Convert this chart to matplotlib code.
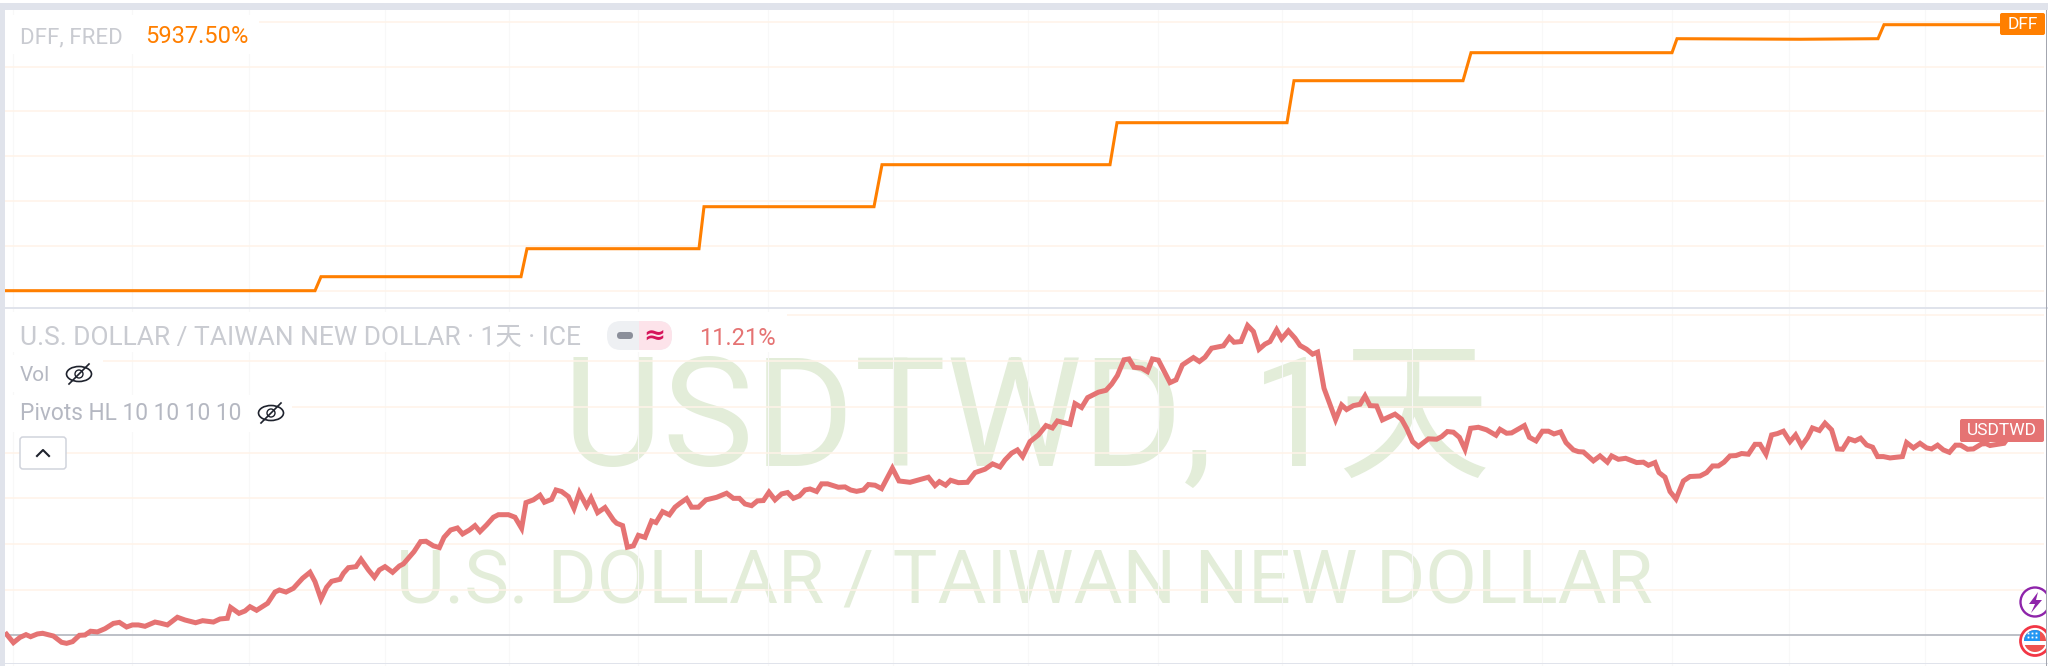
import matplotlib
matplotlib.use("Agg")
import matplotlib.pyplot as plt
from matplotlib.patches import Rectangle, FancyBboxPatch, Circle, Ellipse, Polygon

FONT = ['Roboto', 'Noto Sans CJK SC', 'DejaVu Sans']
plt.rcParams['font.family'] = FONT

# ---- data: day number on the shared time axis, DFF rate in %, USDTWD change in % ----
dff_days = [2.5, 157.5, 160.5, 260.5, 263.5, 349.5, 352, 437, 441, 555, 558.5, 643.5, 647, 731.5,
            735.5, 836, 838.5, 900, 939, 942, 1002]
dff_rate = [0.08, 0.08, 0.33, 0.33, 0.83, 0.83, 1.58, 1.58, 2.33, 2.33, 3.08, 3.08, 3.83, 3.83,
            4.33, 4.33, 4.58, 4.57, 4.58, 4.83, 4.83]

usd_days = [
    3.3, 6.7, 10, 13, 15.3, 18.7, 21.3, 26.7, 30.8, 33.3, 36.3, 39.7, 42.5, 45.3, 48.7, 52.5, 56.7,
    59.7, 63.3, 66.2, 69.2, 72.5, 77.5, 80, 83.7, 88.7, 92.5, 97.8, 101.3, 106.7, 110, 113.7, 115.3,
    119.5, 122.5, 125, 128.3, 133.8, 137.5, 139.7, 143, 146.7, 151.3, 155, 157.5, 160.5, 163.3,
    165.8, 170,
    171.7, 174.2, 178, 180.5, 184.2, 187.2, 189.7, 192.5, 196.3, 199.7, 201.7, 207, 210.3, 213,
    216.7, 219.7, 222, 225.3, 228.7, 231.3, 234.7, 237.5, 240, 243.3, 246.7, 249.2, 254.2, 257.5,
    260.8, 263, 266.7, 270, 272.2, 275.8, 278, 280.8, 284.2, 287, 289.7, 293.3, 295.5, 298.8, 302.5,
    306.7, 308.3, 311.3, 313.7, 316.7, 319.2, 322.5, 325.8, 328, 331.3, 334.7, 337.5, 340,
    343.3, 345.8, 349.2, 353, 358.3, 363.3, 366.7, 369.7, 372.5, 375.8, 378.7, 381.7, 384.5, 387.5,
    390.8, 393.8, 396.7, 399.7, 402.5, 405, 408.3, 410.8, 413.8, 419.2, 422.5, 425.3, 428.3, 431.7,
    434.2, 437.5, 440.8, 446.2, 449.5, 455, 459.2, 464.2, 467.5, 469.7, 472.8, 475.3, 479.2, 483.7,
    487.5, 492.5, 496.3, 500, 502.5, 505.8, 508.7,
    511.3, 515, 519.2, 523, 526.2, 528.7, 535, 537.5, 540.8, 543.8, 549.2, 553, 555.8, 558.7, 562,
    564.5, 567, 570.8, 573.7, 576.2, 579.2, 585, 588, 591.2, 596.7, 599.7, 602.5, 605.8, 611.7,
    614.7, 617, 620.5, 623.8, 626.7, 629.5, 632.5, 635, 638.3, 640.8, 644.2, 647.5, 650, 653.3,
    656.3, 658.8, 662, 667.8, 670.8, 673.3, 676.7, 680,
    682.5, 685, 688.3, 691.2, 697.5, 700.8, 703.3, 706.3, 709.2, 714.2, 718.3, 720.8, 723.7, 726.7,
    729.7, 732.5, 735.3, 739.2, 743.3, 748, 750, 753.3, 755.8, 762.2, 764.7, 768, 771.2, 774.2, 777,
    780.3, 783, 786.7, 789.2, 791.7, 796.7, 800, 803.7, 805.8, 809.2, 812.8, 818.3, 821.7, 824.2,
    827.5, 829.5, 832.5, 835, 838, 841.7, 845, 850,
    853.3, 856.3, 859.2, 862, 865, 868, 870.8, 874.2, 877.5, 880, 883, 885.8, 888.7, 891.7, 895,
    897.8, 900.8, 903.8, 906.2, 909.7, 912.5, 915.8, 918.7, 921.3, 924.5, 927.5, 930.3, 933.3, 936.3,
    938.8, 941.7, 945, 951.2, 953.3, 956.7, 960, 963.3, 965.8, 968.8, 971.7, 974.7, 977.8, 980.3,
    983.8, 986.7, 990.8, 993, 995, 1002, 1003,
]
usd_pct = [
    0.04, -0.45, -0.14, 0.02, -0.10, 0.06, 0.10, -0.06, -0.43, -0.49, -0.39, -0.02, 0.00, 0.22, 0.18,
    0.37, 0.68, 0.74, 0.47, 0.59, 0.59, 0.51, 0.76, 0.70, 0.59, 1.04, 0.88, 0.72, 0.84, 0.76, 0.94,
    0.98, 1.62, 1.27, 1.41, 1.66, 1.45, 1.86, 2.52, 2.64, 2.52, 2.74, 3.33, 3.68, 3.13, 2.11, 2.80,
    3.15, 3.27,
    3.62, 3.95, 4.01, 4.44, 3.82, 3.39, 3.82, 4.01, 3.68, 4.05, 4.17, 4.89, 5.48, 5.50, 5.23, 5.13,
    5.73, 6.16, 6.28, 5.93, 6.16, 6.42, 6.07, 6.46, 6.91, 7.06, 7.06, 6.91, 6.26, 7.77, 7.93, 8.20,
    7.79, 7.96, 8.51, 8.42, 8.12, 7.42, 8.36, 7.57, 8.04, 7.18, 7.48, 6.75, 6.56, 6.42, 5.15, 5.23,
    5.85, 5.73, 6.69, 6.60, 7.24, 7.05, 7.50, 7.73,
    8.00, 7.50, 7.50, 7.93, 8.08, 8.32, 8.02, 8.02, 7.69, 7.59, 7.87, 7.89, 8.38, 7.93, 8.28, 8.36,
    8.02, 8.16, 8.51, 8.57, 8.42, 8.87, 8.87, 8.67, 8.69, 8.51, 8.43, 8.51, 8.83, 8.79, 8.59, 9.79,
    9.04, 8.96, 9.10, 9.26, 8.77, 9.00, 8.79, 9.08, 8.94, 8.96, 9.53, 9.73, 10.04, 9.86, 10.27,
    10.67, 10.86,
    10.47, 11.35, 11.74, 12.29, 12.15, 12.56, 12.37, 13.58, 13.35, 13.93, 14.25, 14.36, 14.72, 15.23,
    16.15, 16.20, 15.71, 15.66, 15.46, 16.20, 16.13, 14.81, 14.97, 15.85, 16.28, 16.05, 16.30, 16.83,
    16.97, 17.46, 17.18, 17.22, 18.16, 17.81, 16.77, 17.07, 17.22, 17.91, 17.38, 17.85, 17.42, 16.99,
    16.77, 16.48, 16.60, 14.48, 12.64, 13.50, 13.23, 13.46, 13.54,
    14.03, 13.46, 13.44, 12.62, 12.96, 12.66, 12.13, 11.35, 11.06, 11.51, 11.49, 11.64, 11.94, 11.90,
    11.60, 10.90, 12.13, 12.19, 12.04, 11.72, 12.07, 11.84, 11.86, 12.29, 11.60, 11.39, 11.96, 11.96,
    11.80, 11.92, 11.29, 10.86, 10.76, 10.74, 10.22, 10.51, 10.14, 10.51, 10.31, 10.37, 10.12, 10.14,
    9.96, 10.12, 9.53, 9.26, 8.42, 7.98, 9.04, 9.30, 9.33,
    9.53, 9.92, 9.92, 10.14, 10.51, 10.53, 10.65, 10.61, 11.19, 11.19, 10.61, 11.74, 11.82, 11.96,
    11.35, 11.74, 11.10, 11.59, 12.15, 12.00, 12.43, 12.04, 10.92, 10.90, 11.51, 11.39, 11.55, 11.15,
    11.02, 10.47, 10.47, 10.39, 10.47, 11.29, 10.98, 11.25, 10.98, 10.92, 11.14, 10.86, 10.72, 11.14,
    11.14, 10.90, 10.92, 11.21, 11.23, 11.12, 11.25, 11.41,
]
grid_days = [6.5, 66, 124.5, 192.5, 254.5, 319, 384, 446.5, 514, 579, 641, 706, 771, 836, 894.5, 962.5]
dff_grid = [0.08, 0.88, 1.68, 2.48, 3.28, 4.08, 4.88]
usd_grid = [2.64, 5.34, 8.02, 10.70, 13.40, 16.10, 18.80]

ORANGE = '#ff7f00'
RED = '#e57373'
HGRID = '#fff3e8'
VGRID = '#f8f8f8'
WM = '#e3edd9'
W, H = 2048, 666

fig = plt.figure(figsize=(20.48, 6.66), dpi=100, facecolor='white')


def ui_axes(z):
    a = fig.add_axes([0, 0, 1, 1], zorder=z)
    a.set_xlim(0, W)
    a.set_ylim(H, 0)
    a.axis('off')
    a.patch.set_alpha(0)
    return a


bg = ui_axes(0)
top = ui_axes(3)

# watermarks
bg.text(563, 466, 'USDTWD, 1天', color=WM, fontsize=110.5, va='baseline', ha='left', family=FONT)
bg.text(396, 603, 'U.S. DOLLAR / TAIWAN NEW DOLLAR', color=WM, fontsize=54, va='baseline', ha='left', family=FONT)

# data panels
ax1 = fig.add_axes([0, (H - 308) / H, 1, 308 / H], zorder=1)
ax1.set_xlim(0, 1024)
ax1.set_ylim(-0.229, 5.271)
ax2 = fig.add_axes([0, 0, 1, (H - 308) / H], zorder=1)
ax2.set_xlim(0, 1024)
ax2.set_ylim(-1.82, 19.19)
for a in (ax1, ax2):
    a.axis('off')
    a.patch.set_alpha(0)
    a.vlines(grid_days, *a.get_ylim(), color=VGRID, lw=0.8, zorder=1)
ax1.hlines(dff_grid, 2.5, 1022, color=HGRID, lw=1.1, zorder=1)
ax2.hlines(usd_grid, 2.5, 1022, color=HGRID, lw=1.1, zorder=1)
ax2.hlines(0, 2.5, 1023, color='#b2b5be', lw=1.2, zorder=2)
ax1.plot(dff_days, dff_rate, color=ORANGE, lw=2.2, solid_joinstyle='miter', zorder=3)
ax2.plot(usd_days, usd_pct, color=RED, lw=3.6, solid_joinstyle='miter', zorder=3)

# page frame
top.add_patch(Rectangle((0, 0), W, 3, fc='white', ec='none'))
top.add_patch(Rectangle((0, 3), W, 6.5, fc='#e0e3eb', ec='none'))
top.add_patch(Rectangle((0, 3), 4.5, H - 3, fc='#e0e3eb', ec='none'))
top.add_patch(Rectangle((4.5, 307), W - 5, 2, fc='#e0e3eb', ec='none'))
top.add_patch(Rectangle((4.5, 662.5), W - 5, 1.5, fc='#e0e3eb', ec='none'))
top.add_patch(Rectangle((2045.5, 9.5), 1, H - 9, fc='#a3a6af', ec='none'))

# legend masks
for x0, y0, x1, y1 in [(5, 15, 259, 54), (5, 312, 787, 352), (5, 355, 103, 392), (5, 395, 292, 432)]:
    top.add_patch(Rectangle((x0, y0), x1 - x0, y1 - y0, fc='white', ec='none', zorder=1))

TXT = '#c9cbd1'
top.text(20, 43, 'DFF, FRED', color=TXT, fontsize=16, va='baseline', zorder=5)
top.text(145, 43, '5937.50%', color=ORANGE, fontsize=17, va='baseline', zorder=5)
top.text(20, 345, 'U.S. DOLLAR / TAIWAN NEW DOLLAR · 1天 · ICE', color=TXT, fontsize=19, va='baseline', family=FONT, zorder=5)
top.text(699, 345, '11.21%', color=RED, fontsize=17, va='baseline', zorder=5)
top.text(20, 381, 'Vol', color='#b5b8c2', fontsize=15, va='baseline', zorder=5)
top.text(20, 420, 'Pivots HL 10 10 10 10', color='#b5b8c2', fontsize=16.4, va='baseline', zorder=5)

# pill
pill_l = FancyBboxPatch((607, 321), 65, 29, boxstyle='round,pad=0,rounding_size=14', fc='#eef0f3', ec='none', zorder=2)
top.add_patch(pill_l)
pill_r = FancyBboxPatch((607, 321), 65, 29, boxstyle='round,pad=0,rounding_size=14', fc='#fde3ea', ec='none', zorder=3)
top.add_patch(pill_r)
pill_r.set_clip_path(Rectangle((639, 315), 40, 40, transform=top.transData))
top.add_patch(FancyBboxPatch((617, 332), 16, 7, boxstyle='round,pad=0,rounding_size=3.5', fc='#8b8f9a', ec='none', zorder=4))
top.text(654, 336, '≈', color='#d6145a', fontsize=19, ha='center', va='center', family=['DejaVu Sans'], zorder=5, fontweight='bold')

# hidden-eye icons
for cx, cy in [(79, 374), (271, 413)]:
    top.add_patch(Ellipse((cx, cy), 25, 15, fc='none', ec='#1e222d', lw=1.2, zorder=5))
    top.add_patch(Circle((cx, cy), 4, fc='none', ec='#1e222d', lw=1.0, zorder=5))
    top.plot([cx - 10, cx + 10], [cy + 10, cy - 10], color='#1e222d', lw=1.2, zorder=6)

# collapse button
top.add_patch(FancyBboxPatch((20, 437), 46, 32, boxstyle='round,pad=0,rounding_size=3', fc='white', ec='#d1d4dc', lw=1.1, zorder=5))
top.plot([37, 43, 49], [456, 450, 456], color='#1e222d', lw=1.5, zorder=6)

# price tags
top.add_patch(FancyBboxPatch((2000, 13), 45, 22, boxstyle='round,pad=0,rounding_size=2', fc=ORANGE, ec='none', zorder=5))
top.text(2022.5, 24.5, 'DFF', color='white', fontsize=12.5, ha='center', va='center', zorder=6)
top.add_patch(FancyBboxPatch((1960, 419), 84, 23, boxstyle='round,pad=0,rounding_size=2', fc=RED, ec='none', zorder=5))
top.text(2002, 430.5, 'USDTWD', color='white', fontsize=12.5, ha='center', va='center', zorder=6)

# event icons, cut by the right edge
clip = Rectangle((1990, 560), 55.5, 100, transform=top.transData)
c1 = Circle((2035, 602), 14.5, fc='white', ec='#8e24aa', lw=1.7, zorder=5)
top.add_patch(c1)
c1.set_clip_path(clip)
bolt = Polygon([(2038, 592), (2029, 604), (2035, 604), (2031, 613), (2042, 600), (2036, 600)], fc='#8e24aa', ec='none', zorder=6)
top.add_patch(bolt)
c2 = Circle((2035, 641), 14.5, fc='white', ec='#f23645', lw=2.0, zorder=5)
top.add_patch(c2)
c2.set_clip_path(clip)
flag_clip = Circle((2035, 641), 11, transform=top.transData)
for patch in [Rectangle((2024, 630), 22, 11, fc='#ef5350', ec='none', zorder=6),
              Rectangle((2024, 645), 22, 8, fc='#ef5350', ec='none', zorder=6),
              Rectangle((2024, 630), 16, 11, fc='#2196f3', ec='none', zorder=7)]:
    top.add_patch(patch)
    patch.set_clip_path(flag_clip)
for sx in (2028, 2032, 2036):
    for sy in (633, 637):
        top.plot([sx], [sy], 's', ms=1.3, color='white', mew=0, zorder=8)

fig.savefig('out.png', dpi=100, facecolor='white')
